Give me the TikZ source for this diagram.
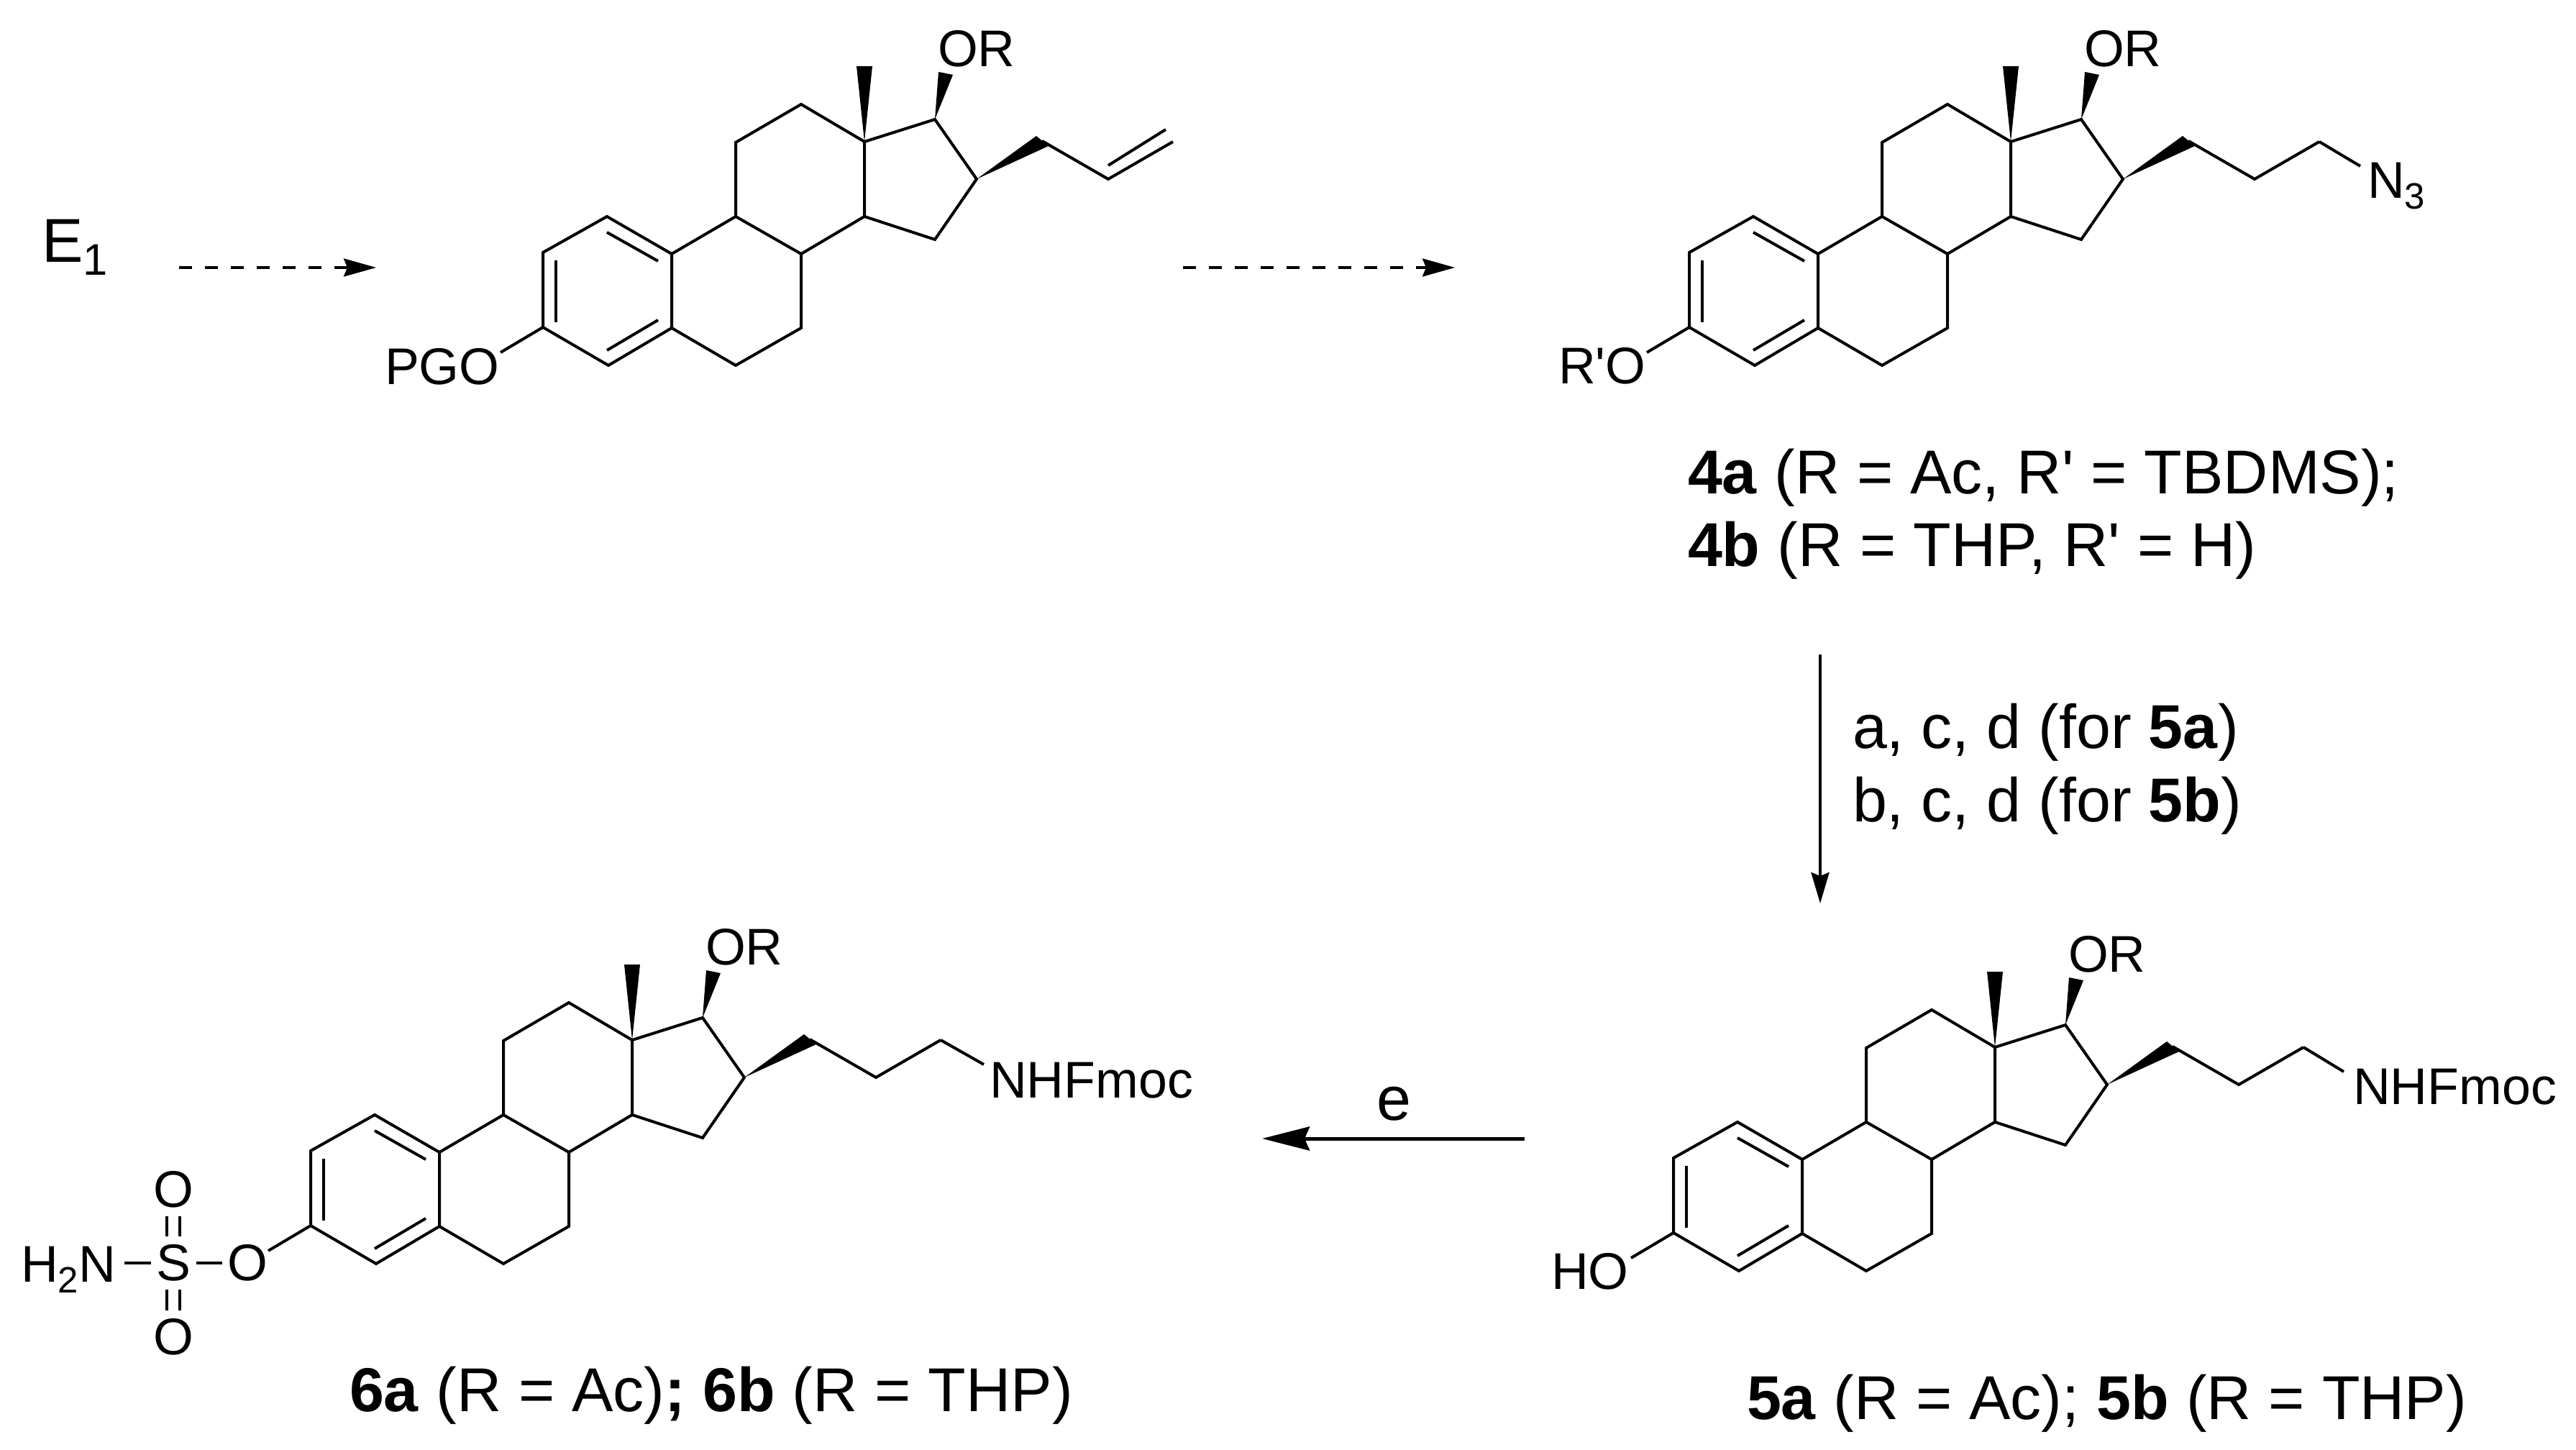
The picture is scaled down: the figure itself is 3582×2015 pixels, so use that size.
\documentclass[tikz,border=0pt]{standalone}
\usepackage{fontspec}
\setmainfont{Liberation Sans}
\usetikzlibrary{arrows.meta}

\newcommand{\atomsub}[1]{\raisebox{-0.21em}{\fontsize{14.5}{14.5}\selectfont #1}}
\newcommand{\bigsub}[1]{\raisebox{-0.22em}{\fontsize{17.5}{17.5}\selectfont #1}}
\newcommand{\strq}{\XeTeXglyph\XeTeXcharglyph"27 }

\tikzset{
  atomlabel/.style={font=\fontsize{20.4}{24}\selectfont,inner sep=0pt,anchor=base west},
  atomcentre/.style={font=\fontsize{20.4}{24}\selectfont,inner sep=0pt},
  schemelabel/.style={font=\fontsize{24.5}{28}\selectfont,inner sep=0pt,anchor=base west},
  atomgap/.style={shorten <=0.1cm,shorten >=0.1cm},
  smallgap/.style={shorten <=0.06cm,shorten >=0.05cm},
  solidarrow/.style={-{Stealth[length=0.43cm,width=0.25cm,inset=0.05cm]}},
  bigarrow/.style={-{Stealth[length=0.66cm,width=0.33cm,inset=0.07cm]},line width=0.05cm},
  dasharrow/.style={-{Stealth[length=0.45cm,width=0.25cm,inset=0.05cm]},dash pattern=on 0.18cm off 0.18cm,line width=0.033cm},
  steroid/.pic={
    \coordinate (-c1) at (89,-154);
    \coordinate (-c2) at (0,-104);
    \coordinate (-c3) at (0,0);
    \coordinate (-c4) at (91,53);
    \coordinate (-c5) at (179,1);
    \coordinate (-c6) at (268,53);
    \coordinate (-c7) at (359,1);
    \coordinate (-c8) at (359,-102);
    \coordinate (-c9) at (268,-154);
    \coordinate (-c10) at (179,-102);
    \coordinate (-c11) at (268,-257);
    \coordinate (-c12) at (359,-310);
    \coordinate (-c13) at (447,-258);
    \coordinate (-c14) at (447,-154);
    \coordinate (-c15) at (545,-122);
    \coordinate (-c16) at (603,-206);
    \coordinate (-c17) at (545,-289);
    \coordinate (-c20) at (786,-206);
    \coordinate (-c21) at (876,-258);
    \coordinate (-ch) at (694,-259);
    \coordinate (-o3) at (-59,35);
    % rings
    \draw (-c3) -- (-c2) -- (-c1) -- (-c10) -- (-c5) -- (-c4) -- cycle;
    \draw (-c10) -- (-c9) -- (-c8) -- (-c7) -- (-c6) -- (-c5);
    \draw (-c9) -- (-c11) -- (-c12) -- (-c13) -- (-c14) -- (-c8);
    \draw (-c13) -- (-c17) -- (-c16) -- (-c15) -- (-c14);
    % inner lines of the aromatic ring
    \draw (18,-93) -- (18,-7);
    \draw (89,-132) -- (160,-92);
    \draw (89,32) -- (160,-10);
    \draw (-c3) -- (-o3);
    % wedges
    \fill (-c13) -- (436,-363) -- (458,-363) -- cycle;
    \fill (-c17) -- (550,-355) -- (570,-351) -- cycle;
    \fill (-c16) -- (686,-266) -- (703,-252) -- cycle;
    \draw (-ch) -- (-c20) -- (-c21);
    \node[atomlabel] (-or) at (547,-363) {OR};
  }
}

\begin{document}
\begin{tikzpicture}
[x=0.01cm,y=-0.01cm,line width=0.04cm]
\useasboundingbox (0,0) rectangle (3582,2015);

% E1 and the dashed arrows
\node[schemelabel] (e1) at (56,364) {E\bigsub{1}};
\coordinate (dashastart) at (249,372);
\coordinate (dashaend) at (523,372);
\draw[dasharrow] (dashastart) -- (dashaend);
\coordinate (dashbstart) at (1645,372);
\coordinate (dashbend) at (2023,372);
\draw[dasharrow] (dashbstart) -- (dashbend);

% allyl compound
\pic (allyl) at (755,455) {steroid};
\node[atomlabel] (pgo) at (533,534) {PGO};
\draw ([yshift=0.19cm]allyl-c20) -- ([xshift=-0.1cm,yshift=0.17cm]allyl-c21);

% azide
\pic (azide) at (2349,455) {steroid};
\node[atomlabel] (ro) at (2165,533) {R\strq O};
\node[atomlabel] (nthree) at (3290,275) {N\atomsub{3}};
\coordinate (azideend) at (3282,231);
\draw (azide-c21) -- (azideend);
\node[schemelabel] (lab4a) at (2345,686) {\textbf{4a} (R = Ac, R\strq\ = TBDMS);};
\node[schemelabel] (lab4b) at (2345,787) {\textbf{4b} (R = THP, R\strq\ = H)};

% step a-d
\coordinate (stepstart) at (2531,910);
\coordinate (stepend) at (2531,1256);
\draw[solidarrow] (stepstart) -- (stepend);
\node[schemelabel] (conda) at (2574,1040) {a, c, d (for \textbf{5a})};
\node[schemelabel] (condb) at (2574,1142) {b, c, d (for \textbf{5b})};

% amine
\pic (amine) at (2327,1714) {steroid};
\node[atomlabel] (ho) at (2155,1792) {HO};
\node[atomlabel] (nhfa) at (3270,1535) {NHFmoc};
\coordinate (amineend) at (3259,1490);
\draw (amine-c21) -- (amineend);
\node[schemelabel] (lab5) at (2427,1973) {\textbf{5a} (R = Ac); \textbf{5b} (R = THP)};

% step e
\coordinate (estart) at (2120,1583);
\coordinate (eend) at (1755,1583);
\draw[bigarrow] (estart) -- (eend);
\node[schemelabel,anchor=base] (ecap) at (1938,1557) {e};

% sulfamate
\pic (sulf) at (432,1704) {steroid};
\node[atomlabel] (nhfb) at (1374,1526) {NHFmoc};
\coordinate (sulfend) at (1368,1480);
\draw (sulf-c21) -- (sulfend);
\node[atomcentre] (s) at (241,1756) {S};
\node[atomcentre] (otop) at (241,1654) {O};
\node[atomcentre] (obot) at (241,1859) {O};
\node[atomcentre] (oest) at (344,1756) {O};
\node[atomlabel] (hn) at (27,1782) {H\atomsub{2}N};
\draw[smallgap,shorten <=0.1cm] (hn.east |- s.west) -- (s.west);
\draw[smallgap] (s.east) -- (oest.west);
\draw[atomgap] ([xshift=-0.09cm]s.north) -- ([xshift=-0.09cm]otop.south);
\draw[atomgap] ([xshift=0.09cm]s.north) -- ([xshift=0.09cm]otop.south);
\draw[atomgap] ([xshift=-0.09cm]s.south) -- ([xshift=-0.09cm]obot.north);
\draw[atomgap] ([xshift=0.09cm]s.south) -- ([xshift=0.09cm]obot.north);
\node[schemelabel] (lab6) at (484,1962) {\textbf{6a} (R = Ac)\textbf{;} \textbf{6b} (R = THP)};
\end{tikzpicture}
\end{document}
